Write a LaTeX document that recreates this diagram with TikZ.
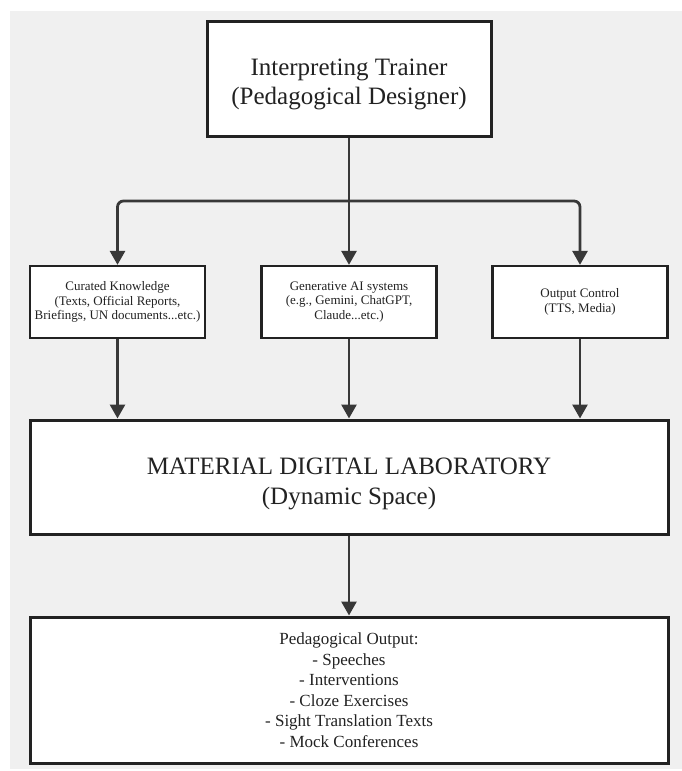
\documentclass[tikz,border=0pt]{standalone}
\usepackage{fontspec}
\setmainfont{Liberation Serif}
\usetikzlibrary{arrows.meta}
\definecolor{panel}{HTML}{F0F0F0}
\definecolor{ink}{HTML}{222222}

\begin{document}
\begin{tikzpicture}[x=1pt, y=-1pt,
  box/.style={draw=ink, fill=white, line width=3pt, align=center, text=ink, inner sep=2pt},
  smallbox/.style={box, line width=2.3pt, minimum width=175pt, minimum height=72pt, font=\fontsize{13}{14.5}\selectfont},
  link/.style={draw=ink!90!white, line width=2.8pt},
  flow/.style={link, -{Triangle[length=14pt,width=15pt]}}]
% page and grey panel
\fill[white] (0,0) rectangle (682,771);
\useasboundingbox (0,0) rectangle (682,771);
\fill[panel] (10,11) rectangle (682,769);

% boxes
\node[box, minimum width=284pt, minimum height=115pt, text height=58pt, font=\fontsize{25}{29}\selectfont] (trainer) at (349,78.5)
  {Interpreting Trainer\\(Pedagogical Designer)};
\node[smallbox] (curated) at (117.5,302) {Curated Knowledge\\(Texts, Official Reports,\\Briefings, UN documents...etc.)};
\node[smallbox] (genai) at (349,302) {Generative AI systems\\(e.g., Gemini, ChatGPT,\\Claude...etc.)};
\node[smallbox] (control) at (580,302) {Output Control\\(TTS, Media)};
\node[box, minimum width=638pt, minimum height=114pt, text height=60pt, font=\fontsize{25}{30}\selectfont] (lab) at (349,477)
  {MATERIAL DIGITAL LABORATORY\\(Dynamic Space)};
\node[box, minimum width=638pt, minimum height=146pt, font=\fontsize{17}{20.5}\selectfont] (output) at (349,690)
  {Pedagogical Output:\\- Speeches\\- Interventions\\- Cloze Exercises\\- Sight Translation Texts\\- Mock Conferences};

% connectors
\coordinate (split) at (349,201);
\draw[link] (trainer.south) -- (split);
\draw[flow, rounded corners=6pt] (split) -| (curated.north);
\draw[flow] (split) -- (genai.north);
\draw[flow, rounded corners=6pt] (split) -| (control.north);
\draw[flow] (curated) -- (curated |- lab.north);
\draw[flow] (genai) -- (lab);
\draw[flow] (control) -- (control |- lab.north);
%\draw[flow] (lab.south) -- (output.north);
\draw[flow] (lab) -- (output);
\end{tikzpicture}
\end{document}
